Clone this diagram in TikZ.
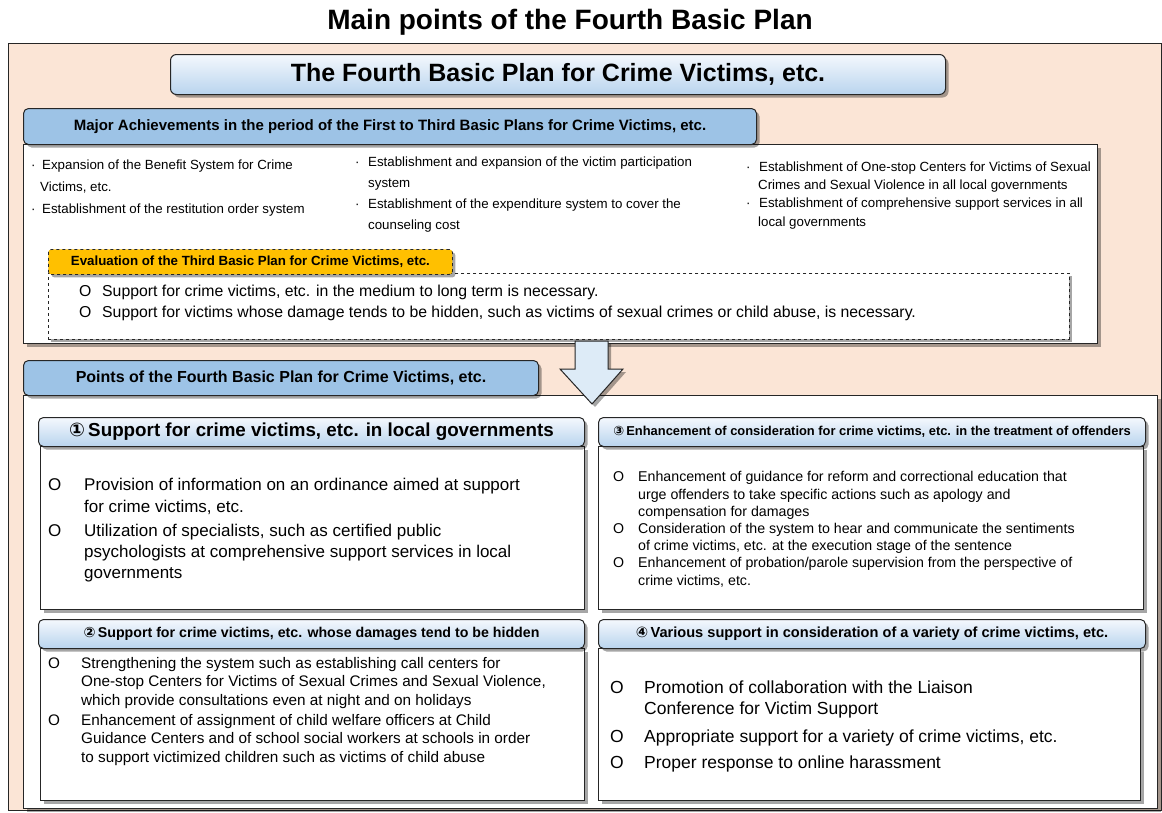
\documentclass[tikz,border=0pt]{standalone}
\usepackage{fontspec}
\setmainfont{Liberation Sans}
\newfontfamily\symf{DejaVu Sans}
\usetikzlibrary{shadows}
\definecolor{peach}{HTML}{FBE5D6}
\definecolor{tabblue}{HTML}{9DC3E6}
\definecolor{hdrtop}{HTML}{F4F8FD}
\definecolor{hdrbot}{HTML}{B9D4EE}
\definecolor{arrowblue}{HTML}{DDEBF7}
\definecolor{evalorange}{HTML}{FFC000}
\definecolor{edge}{HTML}{262626}
\newcommand\fs[2]{\fontsize{#1}{#2}\selectfont}
\newcommand\bdot[1]{\makebox[#1][l]{·}}
\newcommand\ob[1]{\makebox[#1][l]{O}}
\tikzset{
  shd/.style={drop shadow={shadow xshift=3pt,shadow yshift=-3pt,opacity=0.35,fill=black}},
  box/.style={draw=edge,line width=1pt,anchor=north west,inner sep=0pt,rectangle},
  outerbox/.style={box,fill=peach,line width=1.3pt},
  bodybox/.style={box,fill=white,shd},
  hdrbox/.style={box,rounded corners=5pt,top color=hdrtop,bottom color=hdrbot,shd,font=\bfseries},
  tabbox/.style={box,rounded corners=5pt,fill=tabblue,shd,font=\bfseries},
  evalbox/.style={box,fill=white,dashed,line width=0.8pt,shd},
  evaltab/.style={box,fill=evalorange,dashed,line width=0.8pt,rounded corners=3pt,shd,font=\bfseries},
  txt/.style={anchor=base west,inner sep=0pt,align=left},
  bigarrow/.style={draw=edge,line width=1pt,fill=arrowblue,line join=miter,shd}
}
\begin{document}
\begin{tikzpicture}[x=1pt,y=-1pt]
\useasboundingbox (0,0) rectangle (1162,812);
\fill[white] (0,0) rectangle (1162,812);

\node[font=\bfseries\fs{28}{32}] (title) at (570,22) {Main points of the Fourth Basic Plan};

\node[outerbox,minimum width=1153,minimum height=767] (outer) at (8,43) {};

\node[hdrbox,rounded corners=6pt,minimum width=775,minimum height=40,font=\bfseries\fs{25}{28}] (plan) at (170,54) {The Fourth Basic Plan for Crime Victims, etc.};

% achievements (base anchor = baseline of the last line)
\node[bodybox,minimum width=1074,minimum height=199] (ach) at (23,144) {};
\node[tabbox,minimum width=733,minimum height=36,font=\bfseries\fs{15}{17}] (achtab) at (23,108) {Major Achievements in the period of the First to Third Basic Plans for Crime Victims, etc.};

\node[txt,font=\fs{13.3}{22}] (achA) at (31,213) {\bdot{11pt}Expansion of the Benefit System for Crime\\
\hspace*{9pt}Victims, etc.\\
\bdot{11pt}Establishment of the restitution order system};
\node[txt,font=\fs{13.3}{21}] (achB) at (355,229) {\bdot{13pt}Establishment and expansion of the victim participation\\
\hspace*{13pt}system\\
\bdot{13pt}Establishment of the expenditure system to cover the\\
\hspace*{13pt}counseling cost};
\node[txt,font=\fs{13.3}{18.3}] (achC) at (746,226) {\bdot{13pt}Establishment of One-stop Centers for Victims of Sexual\\
\hspace*{12pt}Crimes and Sexual Violence in all local governments\\
\bdot{13pt}Establishment of comprehensive support services in all\\
\hspace*{12pt}local governments};

% evaluation
\node[evalbox,minimum width=1021,minimum height=66] (eval) at (48,273) {};
\node[evaltab,minimum width=404,minimum height=25,font=\bfseries\fs{13.3}{15}] (evaltab) at (48,249) {Evaluation of the Third Basic Plan for Crime Victims, etc.};
\node[txt,font=\fs{15.8}{20.5}] (evalitems) at (79,317) {\ob{23pt}Support for crime victims, etc. in the medium to long term is necessary.\\
\ob{23pt}Support for victims whose damage tends to be hidden, such as victims of sexual crimes or child abuse, is necessary.};

% points
\node[bodybox,minimum width=1134,minimum height=413] (pts) at (23,395) {};
\node[tabbox,minimum width=515,minimum height=35,font=\bfseries\fs{16}{17}] (ptstab) at (23,360) {Points of the Fourth Basic Plan for Crime Victims, etc.};

% arrow
\path[bigarrow] (575,341) -- (608,341) -- (608,369) -- (623,369) -- (592,404) -- (560,369) -- (575,369) -- cycle;

% box 1
\node[bodybox,minimum width=544,minimum height=163] (b1) at (40,446) {};
\node[hdrbox,minimum width=546,minimum height=29,font=\bfseries\fs{18.8}{20}] (h1) at (38,417) {{\symf ①}\,Support for crime victims, etc. in local governments};
\node[txt,font=\fs{17}{22}] (b1a) at (48,512) {\ob{36pt}Provision of information on an ordinance aimed at support\\
\hspace*{36pt}for crime victims, etc.};
\node[txt,font=\fs{17}{21}] (b1b) at (48,578) {\ob{36pt}Utilization of specialists, such as certified public\\
\hspace*{36pt}psychologists at comprehensive support services in local\\
\hspace*{36pt}governments};

% box 3
\node[bodybox,minimum width=545,minimum height=163] (b3) at (598,446) {};
\node[hdrbox,minimum width=547,minimum height=29,font=\bfseries\fs{12.9}{14}] (h3) at (598,417) {{\symf ③}\,Enhancement of consideration for crime victims, etc. in the treatment of offenders};
\node[txt,font=\fs{14.2}{17.2}] (b3a) at (613,585) {\ob{25pt}Enhancement of guidance for reform and correctional education that\\
\hspace*{25pt}urge offenders to take specific actions such as apology and\\
\hspace*{25pt}compensation for damages\\
\ob{25pt}Consideration of the system to hear and communicate the sentiments\\
\hspace*{25pt}of crime victims, etc. at the execution stage of the sentence\\
\ob{25pt}Enhancement of probation/parole supervision from the perspective of\\
\hspace*{25pt}crime victims, etc.};

% box 2
\node[bodybox,minimum width=544,minimum height=152] (b2) at (40,648) {};
\node[hdrbox,minimum width=546,minimum height=29,font=\bfseries\fs{14.2}{15}] (h2) at (38,619) {{\symf ②}\,Support for crime victims, etc. whose damages tend to be hidden};
\node[txt,font=\fs{15.3}{18.3}] (b2a) at (48,705) {\ob{33pt}Strengthening the system such as establishing call centers for\\
\hspace*{33pt}One-stop Centers for Victims of Sexual Crimes and Sexual Violence,\\
\hspace*{33pt}which provide consultations even at night and on holidays};
\node[txt,font=\fs{15.3}{18.3}] (b2b) at (48,762) {\ob{33pt}Enhancement of assignment of child welfare officers at Child\\
\hspace*{33pt}Guidance Centers and of school social workers at schools in order\\
\hspace*{33pt}to support victimized children such as victims of child abuse};

% box 4
\node[bodybox,minimum width=542,minimum height=152] (b4) at (598,648) {};
\node[hdrbox,minimum width=547,minimum height=29,font=\bfseries\fs{14.6}{15}] (h4) at (598,619) {{\symf ④}\,Various support in consideration of a variety of crime victims, etc.};
\node[txt,font=\fs{17.5}{21}] (b4a) at (610,714) {\ob{34pt}Promotion of collaboration with the Liaison\\
\hspace*{34pt}Conference for Victim Support};
\node[txt,font=\fs{17.5}{21}] (b4b) at (610,742) {\ob{34pt}Appropriate support for a variety of crime victims, etc.};
\node[txt,font=\fs{17.5}{21}] (b4c) at (610,768) {\ob{34pt}Proper response to online harassment};
\end{tikzpicture}
\end{document}
